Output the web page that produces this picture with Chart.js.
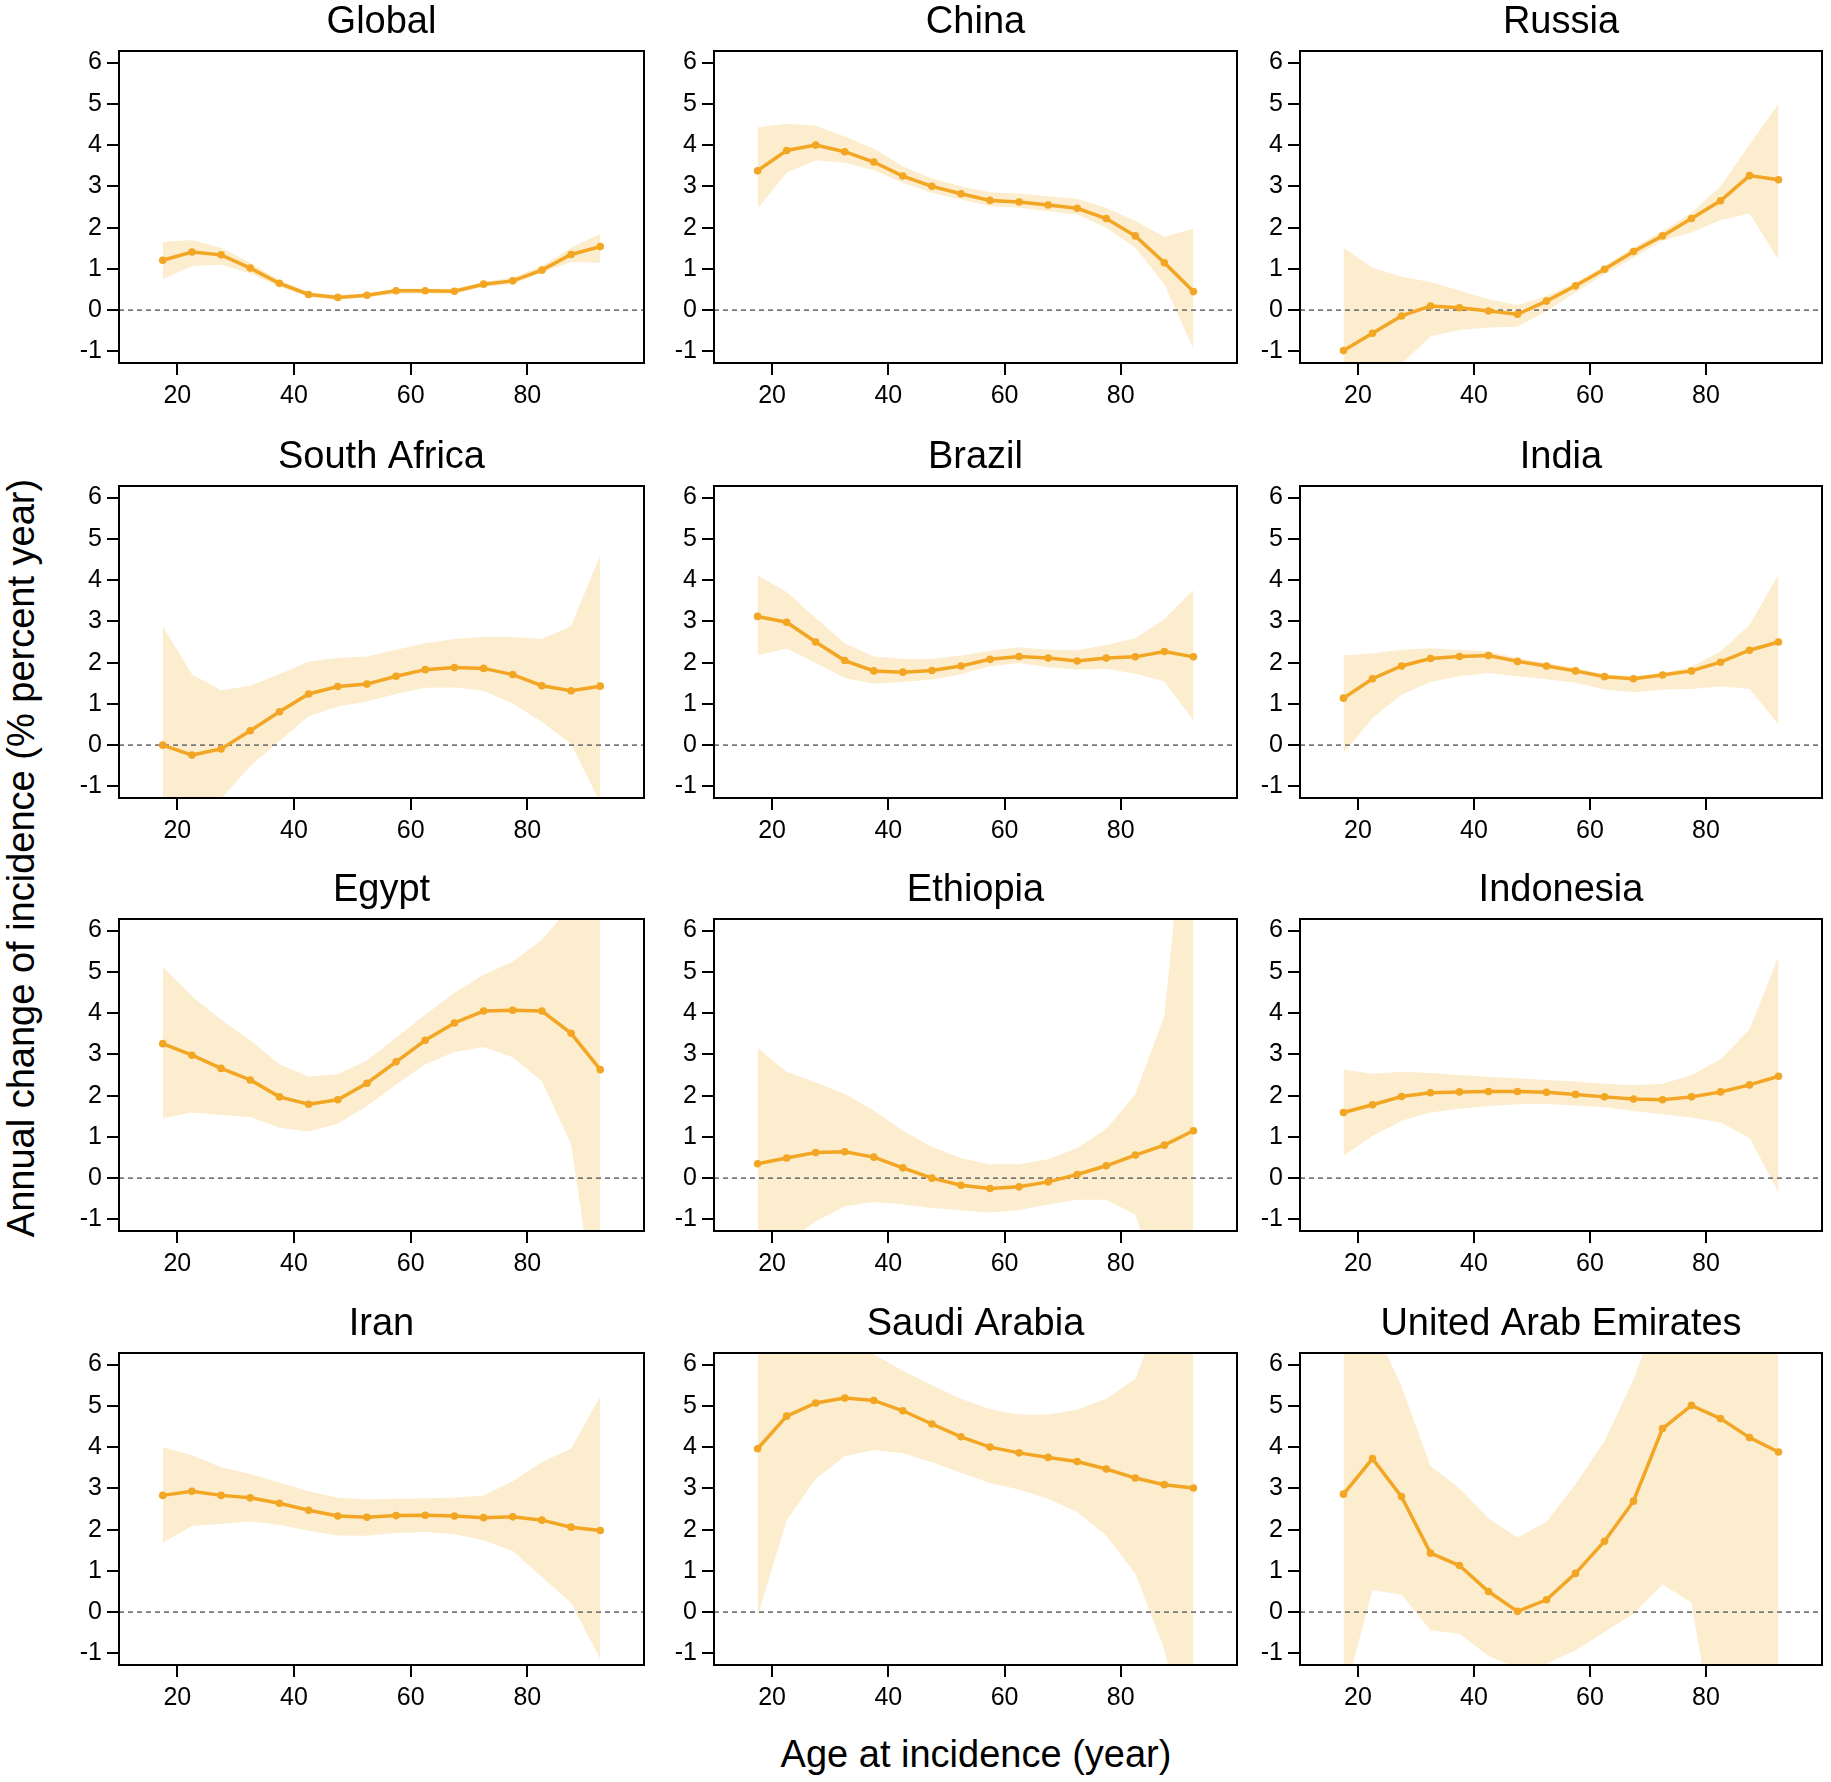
<!DOCTYPE html>
<html>
<head>
<meta charset="utf-8">
<script src="https://cdn.jsdelivr.net/npm/chart.js@4.4.1/dist/chart.umd.min.js"></script>
<style>
html,body{margin:0;padding:0;background:#fff;}
body{width:1831px;height:1782px;position:relative;overflow:hidden;font-family:"Liberation Sans",Arial,sans-serif;}
canvas{position:absolute;}
#xtitle{position:absolute;left:576px;top:1732px;width:800px;height:44px;line-height:44px;text-align:center;font-size:38px;color:#000;}
#ytitle{position:absolute;left:-479px;top:836px;width:1000px;height:44px;line-height:44px;text-align:center;font-size:38px;color:#000;transform:rotate(-90deg);transform-origin:50% 50%;}
</style>
</head>
<body>
<div id="xtitle">Age at incidence (year)</div>
<div id="ytitle">Annual change of incidence (% percent year)</div>
<script>
// ---- data ----
const AGES = [17.5,22.5,27.5,32.5,37.5,42.5,47.5,52.5,57.5,62.5,67.5,72.5,77.5,82.5,87.5,92.5];
const X_TICKS = [20,40,60,80];
const Y_TICKS = [-1,0,1,2,3,4,5,6];
const TITLES = ["Global","China","Russia","South Africa","Brazil","India","Egypt","Ethiopia","Indonesia","Iran","Saudi Arabia","United Arab Emirates"];

const GLOBAL_EST = [1.21,1.41,1.34,1.02,0.65,0.38,0.31,0.36,0.47,0.47,0.46,0.63,0.71,0.97,1.35,1.54];
const GLOBAL_HI  = [1.65,1.70,1.51,1.15,0.73,0.44,0.36,0.40,0.52,0.52,0.52,0.68,0.79,1.07,1.51,1.85];
const GLOBAL_LO  = [0.75,1.07,1.10,0.89,0.57,0.32,0.25,0.31,0.40,0.40,0.40,0.57,0.63,0.91,1.17,1.15];

const CHINA_EST = [3.38,3.87,4.00,3.84,3.59,3.25,3.00,2.82,2.66,2.62,2.55,2.47,2.22,1.80,1.15,0.45];
const CHINA_HI  = [4.43,4.52,4.47,4.21,3.91,3.49,3.19,3.00,2.86,2.83,2.76,2.70,2.48,2.16,1.78,1.97];
const CHINA_LO  = [2.46,3.33,3.63,3.57,3.39,3.09,2.84,2.68,2.52,2.48,2.40,2.32,2.00,1.51,0.63,-0.94];

const RUSSIA_EST = [-0.98,-0.56,-0.14,0.10,0.06,-0.02,-0.10,0.22,0.59,0.99,1.42,1.80,2.22,2.65,3.26,3.16];
const RUSSIA_HI  = [1.51,1.03,0.81,0.68,0.47,0.27,0.12,0.35,0.67,1.07,1.51,1.92,2.36,3.00,4.01,5.00];
const RUSSIA_LO  = [-1.50,-1.60,-1.30,-0.64,-0.48,-0.42,-0.40,-0.02,0.43,0.87,1.27,1.68,1.88,2.18,2.34,1.22];

const SAFRICA_EST = [0.00,-0.24,-0.09,0.35,0.81,1.24,1.42,1.48,1.67,1.83,1.88,1.86,1.71,1.44,1.32,1.43];
const SAFRICA_HI  = [2.88,1.72,1.33,1.44,1.72,2.03,2.11,2.15,2.31,2.47,2.57,2.62,2.62,2.57,2.88,4.61];
const SAFRICA_LO  = [-1.60,-1.60,-1.30,-0.51,0.10,0.70,0.94,1.06,1.24,1.39,1.40,1.32,1.01,0.56,0.03,-1.40];

const BRAZIL_EST = [3.12,2.98,2.50,2.05,1.80,1.77,1.81,1.92,2.08,2.15,2.11,2.04,2.11,2.14,2.27,2.14];
const BRAZIL_HI  = [4.11,3.71,3.08,2.47,2.15,2.09,2.09,2.17,2.29,2.37,2.31,2.30,2.43,2.59,3.05,3.76];
const BRAZIL_LO  = [2.18,2.34,1.99,1.63,1.49,1.53,1.59,1.72,1.91,1.99,1.89,1.83,1.85,1.73,1.55,0.60];

const INDIA_EST = [1.14,1.61,1.92,2.10,2.15,2.17,2.03,1.92,1.80,1.66,1.61,1.70,1.80,2.01,2.30,2.50];
const INDIA_HI  = [2.17,2.23,2.31,2.35,2.31,2.27,2.11,1.99,1.87,1.72,1.67,1.75,1.90,2.27,2.92,4.13];
const INDIA_LO  = [-0.19,0.66,1.22,1.53,1.67,1.75,1.67,1.60,1.51,1.35,1.28,1.35,1.36,1.43,1.36,0.50];

const EGYPT_EST = [3.26,2.98,2.66,2.38,1.97,1.79,1.90,2.30,2.82,3.34,3.76,4.05,4.07,4.05,3.51,2.63];
const EGYPT_HI  = [5.11,4.41,3.84,3.34,2.76,2.46,2.52,2.85,3.40,3.96,4.49,4.93,5.25,5.78,6.60,7.00];
const EGYPT_LO  = [1.45,1.59,1.53,1.48,1.22,1.13,1.32,1.75,2.27,2.76,3.06,3.18,2.93,2.35,0.82,-4.00];

const ETHIOPIA_EST = [0.35,0.49,0.62,0.64,0.51,0.25,0.00,-0.17,-0.25,-0.21,-0.09,0.09,0.30,0.56,0.80,1.15];
const ETHIOPIA_HI  = [3.16,2.58,2.32,2.04,1.64,1.15,0.76,0.48,0.34,0.34,0.46,0.73,1.19,2.04,3.93,11.0];
const ETHIOPIA_LO  = [-2.50,-1.55,-1.05,-0.68,-0.58,-0.64,-0.72,-0.78,-0.83,-0.77,-0.64,-0.52,-0.52,-0.88,-3.00,-4.00];

const INDONESIA_EST = [1.59,1.78,1.98,2.07,2.09,2.10,2.10,2.08,2.03,1.97,1.92,1.90,1.97,2.09,2.26,2.47];
const INDONESIA_HI  = [2.63,2.53,2.58,2.55,2.50,2.45,2.42,2.38,2.34,2.29,2.25,2.29,2.50,2.88,3.60,5.37];
const INDONESIA_LO  = [0.54,1.02,1.39,1.59,1.68,1.75,1.79,1.80,1.76,1.72,1.63,1.55,1.47,1.35,0.98,-0.35];

const IRAN_EST = [2.83,2.93,2.83,2.77,2.64,2.47,2.33,2.30,2.34,2.35,2.33,2.29,2.31,2.23,2.06,1.98];
const IRAN_HI  = [4.00,3.80,3.51,3.35,3.14,2.93,2.77,2.73,2.75,2.76,2.77,2.83,3.17,3.64,3.96,5.23];
const IRAN_LO  = [1.68,2.09,2.14,2.20,2.12,1.97,1.86,1.85,1.92,1.94,1.89,1.74,1.48,0.85,0.23,-1.14];

const SAUDI_EST = [3.96,4.75,5.07,5.19,5.13,4.88,4.56,4.25,4.00,3.86,3.75,3.65,3.47,3.25,3.09,3.01];
const SAUDI_HI  = [8.00,8.00,7.50,6.80,6.25,5.85,5.50,5.17,4.92,4.79,4.79,4.91,5.17,5.65,7.50,9.00];
const SAUDI_LO  = [-0.10,2.22,3.23,3.78,3.93,3.85,3.63,3.38,3.13,2.97,2.75,2.43,1.86,0.93,-0.90,-4.00];

const UAE_EST = [2.86,3.72,2.80,1.43,1.13,0.50,0.02,0.30,0.94,1.72,2.69,4.45,5.01,4.69,4.23,3.88];
const UAE_HI  = [9.00,7.00,5.47,3.54,3.00,2.27,1.81,2.19,3.10,4.15,5.64,7.50,9.00,9.00,9.00,9.00];
const UAE_LO  = [-2.10,0.54,0.42,-0.44,-0.52,-1.06,-1.35,-1.25,-0.92,-0.48,-0.04,0.67,0.23,-4.00,-4.00,-4.00];

const SERIES = [
  [GLOBAL_EST, GLOBAL_LO, GLOBAL_HI],
  [CHINA_EST, CHINA_LO, CHINA_HI],
  [RUSSIA_EST, RUSSIA_LO, RUSSIA_HI],
  [SAFRICA_EST, SAFRICA_LO, SAFRICA_HI],
  [BRAZIL_EST, BRAZIL_LO, BRAZIL_HI],
  [INDIA_EST, INDIA_LO, INDIA_HI],
  [EGYPT_EST, EGYPT_LO, EGYPT_HI],
  [ETHIOPIA_EST, ETHIOPIA_LO, ETHIOPIA_HI],
  [INDONESIA_EST, INDONESIA_LO, INDONESIA_HI],
  [IRAN_EST, IRAN_LO, IRAN_HI],
  [SAUDI_EST, SAUDI_LO, SAUDI_HI],
  [UAE_EST, UAE_LO, UAE_HI]
];

// ---- layout ----
const COL_LEFT = [119, 714, 1300];
const COL_W = [525, 523, 522];
const ROW_TOP = [51, 486, 919, 1353];
const BOX_H = 312;
const LEFT_SPACE = 100, RIGHT_SPACE = 8, TITLE_SPACE = 51, BOTTOM_SPACE = 60;

const LINE_COLOR = '#F2A623';
const BAND_COLOR = '#FDEDCF';
const FONT = '"Liberation Sans", Arial, sans-serif';

const boxPlugin = {
  id: 'box',
  afterDraw(chart) {
    const a = chart.chartArea, c = chart.ctx;
    c.save();
    c.strokeStyle = '#000';
    c.lineWidth = 2;
    c.strokeRect(a.left, a.top, a.right - a.left, a.bottom - a.top);
    c.restore();
  }
};

const pts = arr => AGES.map((x, i) => ({x: x, y: arr[i]}));

TITLES.forEach((title, k) => {
  const r = Math.floor(k / 3), col = k % 3;
  const [est, lo, hi] = SERIES[k];
  const cv = document.createElement('canvas');
  const w = LEFT_SPACE + COL_W[col] + RIGHT_SPACE;
  const h = TITLE_SPACE + BOX_H + BOTTOM_SPACE;
  cv.width = w; cv.height = h;
  cv.style.left = (COL_LEFT[col] - LEFT_SPACE) + 'px';
  cv.style.top = (ROW_TOP[r] - TITLE_SPACE) + 'px';
  cv.style.width = w + 'px'; cv.style.height = h + 'px';
  document.body.appendChild(cv);

  new Chart(cv, {
    type: 'line',
    data: {
      datasets: [
        {data: pts(est), borderColor: LINE_COLOR, backgroundColor: LINE_COLOR, borderWidth: 3.5,
         pointRadius: 3.8, pointBackgroundColor: LINE_COLOR, pointBorderWidth: 0, fill: false, tension: 0},
        {data: [{x: 10, y: 0}, {x: 100, y: 0}], borderColor: '#7a7a7a', borderWidth: 1.6,
         borderDash: [5, 4], pointRadius: 0, fill: false},
        {data: pts(hi), borderWidth: 0, borderColor: 'rgba(0,0,0,0)', pointRadius: 0,
         backgroundColor: BAND_COLOR, fill: '+1', tension: 0},
        {data: pts(lo), borderWidth: 0, borderColor: 'rgba(0,0,0,0)', pointRadius: 0, fill: false, tension: 0}
      ]
    },
    options: {
      responsive: false,
      animation: false,
      devicePixelRatio: 1,
      layout: {padding: {left: 0, right: RIGHT_SPACE, top: 0, bottom: 0}},
      plugins: {
        legend: {display: false},
        tooltip: {enabled: false},
        title: {display: true, text: title, color: '#000', fullSize: false,
                font: {family: FONT, size: 38, weight: 'normal'},
                padding: {top: 0, bottom: TITLE_SPACE - 45.6}}
      },
      scales: {
        x: {
          type: 'linear', min: 10, max: 100,
          afterBuildTicks: s => { s.ticks = X_TICKS.map(v => ({value: v})); },
          afterFit: s => { s.height = BOTTOM_SPACE; },
          grid: {drawOnChartArea: false, drawTicks: true, tickLength: 12, color: '#000', lineWidth: 2},
          border: {display: false},
          ticks: {color: '#000', font: {family: FONT, size: 25}, padding: 6, maxRotation: 0}
        },
        y: {
          type: 'linear', min: -1.28, max: 6.28,
          afterBuildTicks: s => { s.ticks = Y_TICKS.map(v => ({value: v})); },
          afterFit: s => { s.width = LEFT_SPACE; },
          grid: {drawOnChartArea: false, drawTicks: true, tickLength: 12, color: '#000', lineWidth: 2},
          border: {display: false},
          ticks: {color: '#000', font: {family: FONT, size: 25}, padding: 5}
        }
      }
    },
    plugins: [boxPlugin]
  });
});
</script>
</body>
</html>
